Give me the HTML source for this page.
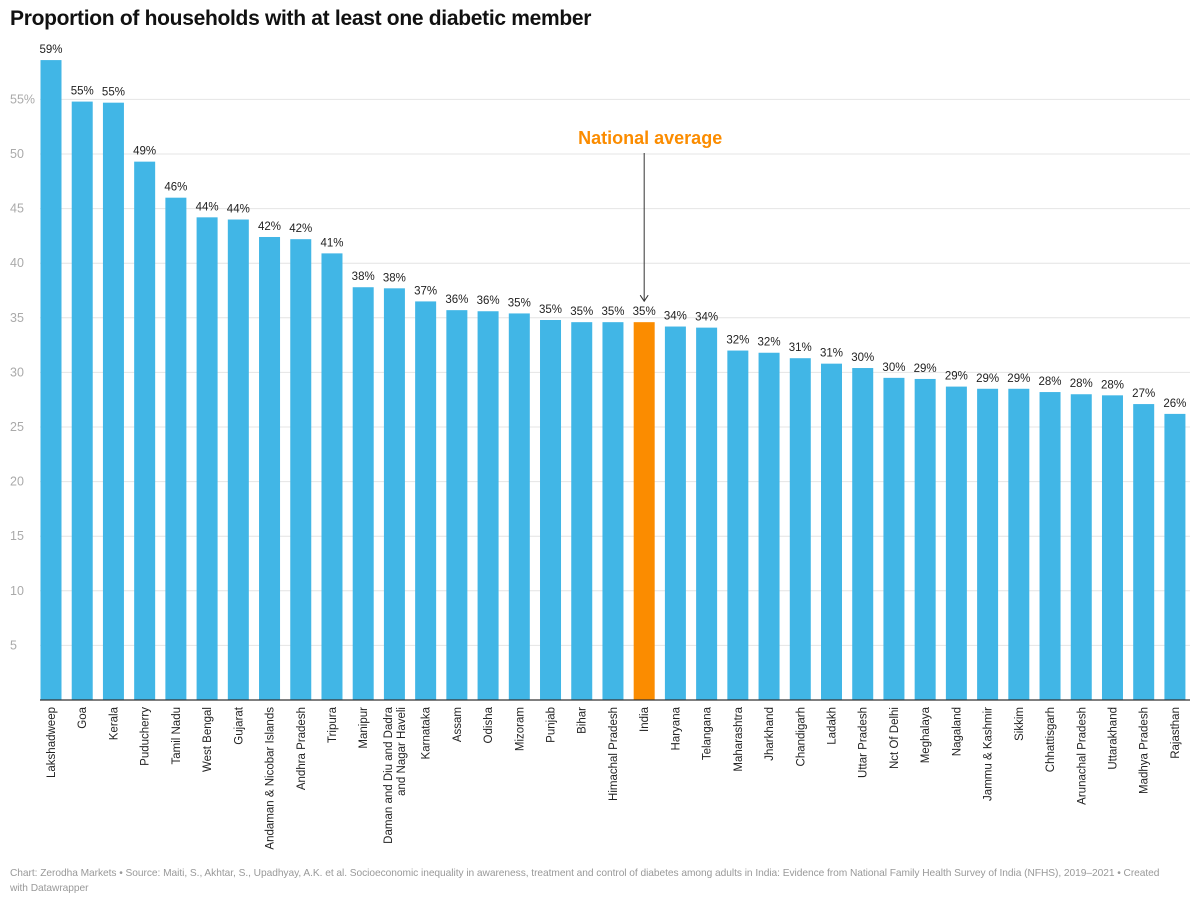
<!DOCTYPE html>
<html><head><meta charset="utf-8"><style>
body{margin:0;background:#fff;font-family:"Liberation Sans",sans-serif}
#wrap{position:relative;width:1200px;height:902px}
.title{position:absolute;left:10px;top:7px;font-size:21px;font-weight:bold;color:#111;letter-spacing:-0.3px}
.foot{position:absolute;left:10px;top:866px;font-size:10.2px;letter-spacing:-0.05px;color:#999;line-height:15px;white-space:nowrap}
</style></head><body>
<div id="wrap">
<div class="title">Proportion of households with at least one diabetic member</div>
<svg id="chart" width="1200" height="902" style="position:absolute;left:0;top:0"></svg>
<div class="foot">Chart: Zerodha Markets • Source: Maiti, S., Akhtar, S., Upadhyay, A.K. et al. Socioeconomic inequality in awareness, treatment and control of diabetes among adults in India: Evidence from National Family Health Survey of India (NFHS), 2019–2021 • Created<br>with Datawrapper</div>
</div>
<script>
const categories=["Lakshadweep","Goa","Kerala","Puducherry","Tamil Nadu","West Bengal","Gujarat","Andaman & Nicobar Islands","Andhra Pradesh","Tripura","Manipur","Daman and Diu and Dadra|and Nagar Haveli","Karnataka","Assam","Odisha","Mizoram","Punjab","Bihar","Himachal Pradesh","India","Haryana","Telangana","Maharashtra","Jharkhand","Chandigarh","Ladakh","Uttar Pradesh","Nct Of Delhi","Meghalaya","Nagaland","Jammu & Kashmir","Sikkim","Chhattisgarh","Arunachal Pradesh","Uttarakhand","Madhya Pradesh","Rajasthan"];
const values=[58.6,54.8,54.7,49.3,46.0,44.2,44.0,42.4,42.2,40.9,37.8,37.7,36.5,35.7,35.6,35.4,34.8,34.6,34.6,34.6,34.2,34.1,32.0,31.8,31.3,30.8,30.4,29.5,29.4,28.7,28.5,28.5,28.2,28.0,27.9,27.1,26.2];
const yTicks=[5,10,15,20,25,30,35,40,45,50,55];
const highlight="India";
const NS="http://www.w3.org/2000/svg";
const svg=document.getElementById('chart');
const y0=700,pxPer=10.92;
const y=v=>y0-v*pxPer;
const x0=51,step=31.22,bw=21;
const x=i=>x0+i*step;
function mk(t,a){const e=document.createElementNS(NS,t);for(const k in a)e.setAttribute(k,a[k]);svg.appendChild(e);return e;}
yTicks.forEach(t=>{
 const g=mk('line',{x1:40,x2:1190,y1:y(t),y2:y(t),stroke:'#e4e4e4','stroke-width':1});
 
 
 const l=mk('text',{x:10,y:y(t)+4,'font-size':12.5,fill:'#aaa'});
 l.textContent=t===55?'55%':String(t);
 
 
});
values.forEach((v,i)=>{
 const c=categories[i];
 const r=mk('rect',{x:x(i)-bw/2,y:y(v),width:bw,height:y0-y(v),fill:c===highlight?'#fb8c00':'#41b6e6'});
 
 
 const t=mk('text',{x:x(i),y:y(v)-7,'font-size':11.5,fill:'#222','text-anchor':'middle'});
 t.textContent=Math.round(v)+'%';
 
 
 const parts=c.split('|');
 parts.forEach((p,j)=>{
  const off=(j-(parts.length-1)/2)*13;
  const lx=x(i)+4+off;
  const tl=mk('text',{x:lx,y:707,'font-size':11.5,fill:'#222','text-anchor':'end',transform:`rotate(-90 ${lx} 707)`});
  tl.textContent=p;
  
  
 });
});
const ax=mk('line',{x1:40,x2:1190,y1:y0,y2:y0,stroke:'#333','stroke-width':1.2});


const hi=categories.indexOf(highlight);
const an=mk('text',{x:x(hi)+6,y:144,'font-size':18,'font-weight':'bold',fill:'#fb8c00','text-anchor':'middle'});
an.textContent='National average';


const al=mk('line',{x1:x(hi),x2:x(hi),y1:153,y2:y(values[hi])-22,stroke:'#333','stroke-width':1});


const ah=mk('path',{d:`M${x(hi)-4} ${y(values[hi])-27} L${x(hi)} ${y(values[hi])-21} L${x(hi)+4} ${y(values[hi])-27}`,fill:'none',stroke:'#333','stroke-width':1});


</script>
</body></html>
